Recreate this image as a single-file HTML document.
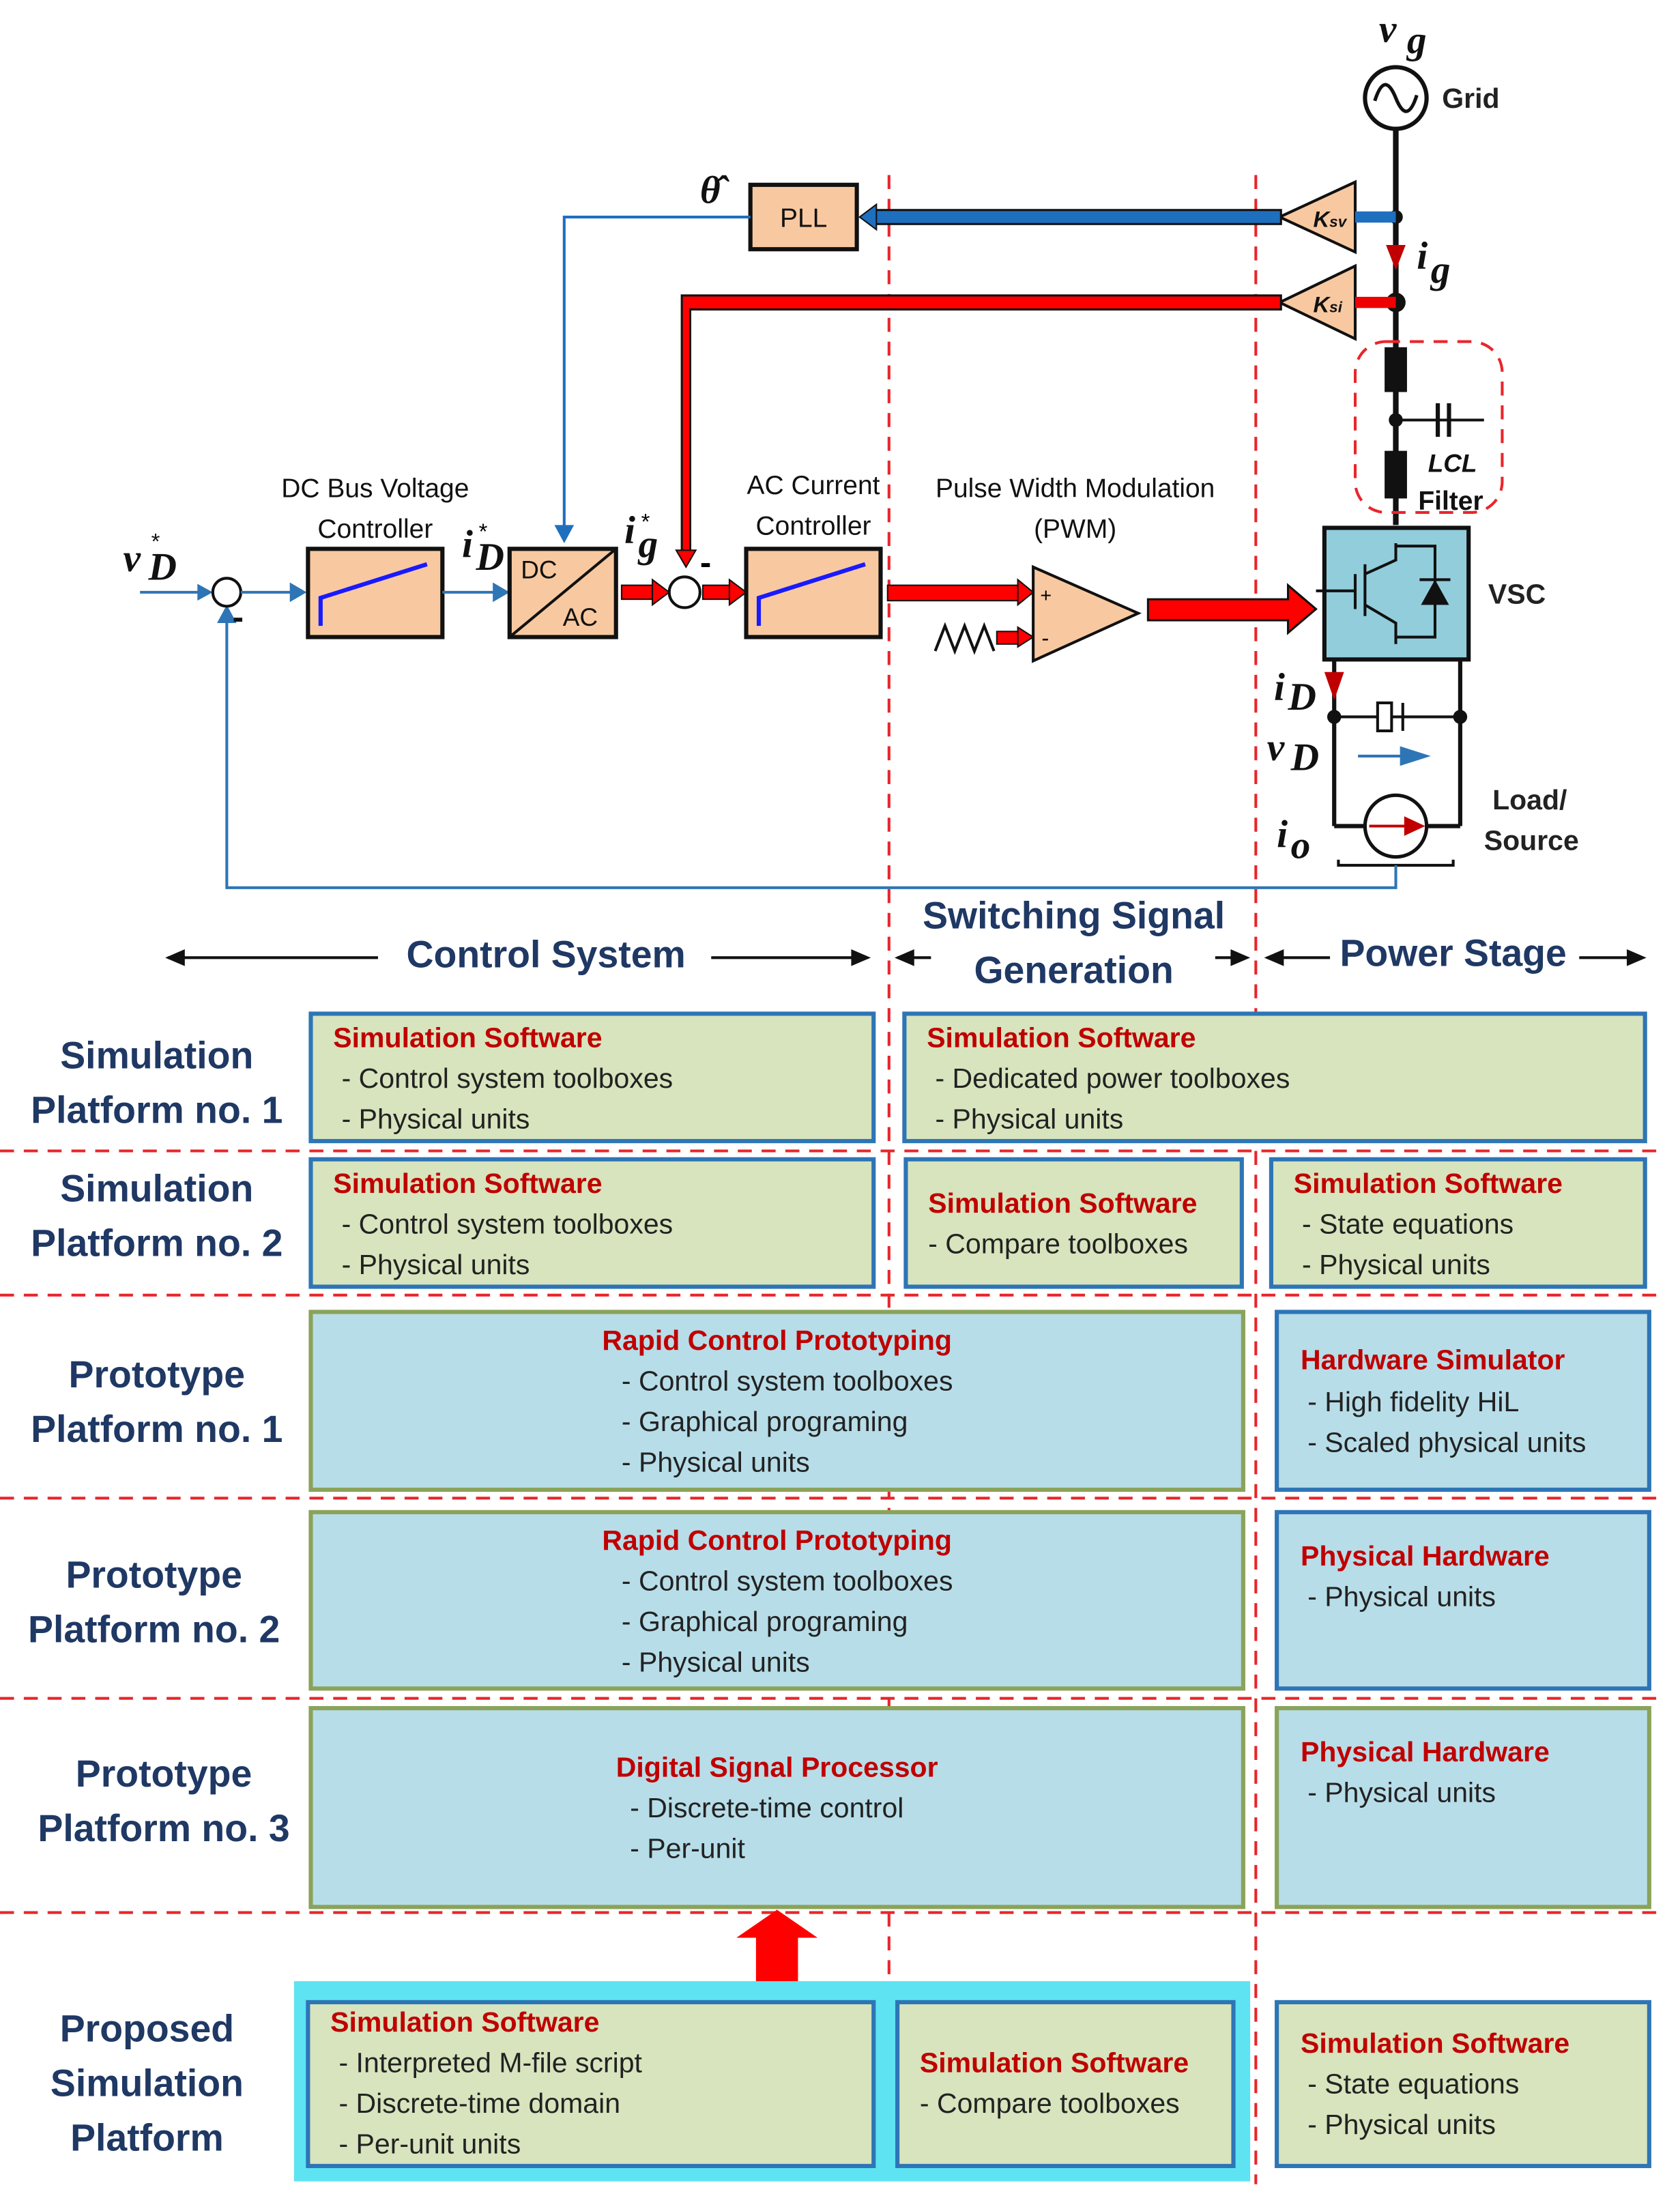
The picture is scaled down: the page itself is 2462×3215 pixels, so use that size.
<!DOCTYPE html>
<html><head><meta charset="utf-8"><style>
html,body{margin:0;padding:0;background:#fff}
svg{display:block}
text{font-family:"Liberation Sans","DejaVu Sans",sans-serif}
.h{fill:#1f3864;font-size:27px;font-weight:bold;text-anchor:middle}
.t{fill:#c00000;font-size:20px;font-weight:bold}
.b{fill:#222;font-size:20px}
.g{fill:#d7e4bd;stroke:#2e75b6;stroke-width:3}
.c{fill:#b7dde8;stroke:#8aa35a;stroke-width:3}
.cb{fill:#b7dde8;stroke:#2e75b6;stroke-width:3}
.rd{stroke:#e8262b;stroke-width:2;stroke-dasharray:10,7;fill:none}
.m{font-family:"Liberation Serif",serif;font-style:italic;font-weight:bold;font-size:28px;fill:#111}
.s{fill:#111;font-size:19px}
</style></head><body>
<svg width="2462" height="3215" viewBox="0 0 1200 1567" preserveAspectRatio="none" xmlns="http://www.w3.org/2000/svg">
<!-- dashed separators -->
<line class="rd" x1="635" y1="125" x2="635" y2="1415"/>
<line class="rd" x1="897" y1="125" x2="897" y2="1560"/>
<line class="rd" x1="0" y1="822" x2="1190" y2="822"/>
<line class="rd" x1="0" y1="925" x2="1190" y2="925"/>
<line class="rd" x1="0" y1="1070" x2="1190" y2="1070"/>
<line class="rd" x1="0" y1="1213" x2="1190" y2="1213"/>
<line class="rd" x1="0" y1="1366" x2="1190" y2="1366"/>

<!-- Grid -->
<text class="m" x="985" y="30">v</text><text class="m" x="1005" y="38" font-size="20">g</text>
<circle cx="997" cy="70" r="22" fill="#fff" stroke="#111" stroke-width="3"/>
<path d="M982 72 q7 -22 15 -2 q8 20 15 -2" fill="none" stroke="#111" stroke-width="2.5"/>
<text x="1030" y="77" font-size="20" font-weight="bold" fill="#222">Grid</text>
<line x1="997" y1="92" x2="997" y2="375" stroke="#111" stroke-width="4"/>
<!-- Ksv -->
<polygon points="968,130 968,180 914,155" fill="#f8c9a0" stroke="#111" stroke-width="2"/>
<text x="938" y="162" font-size="16" font-style="italic" font-weight="bold" fill="#111">K<tspan font-size="11">sv</tspan></text>
<circle cx="997" cy="155" r="5" fill="#111"/>
<rect x="968" y="151" width="29" height="8" fill="#1f6fbf"/>
<rect x="623" y="150" width="292" height="10" fill="#1f6fbf" stroke="#111" stroke-width="1.5"/>
<polygon points="614,155 626,146 626,164" fill="#1f6fbf" stroke="#111"/>
<rect x="536" y="132" width="76" height="46" fill="#f8c9a0" stroke="#111" stroke-width="3"/>
<text x="574" y="162" font-size="19" text-anchor="middle" fill="#111">PLL</text>
<text class="m" x="500" y="145">θ̂</text>
<polyline points="536,155 403,155 403,380" fill="none" stroke="#1f6fbf" stroke-width="2"/>
<polygon points="396,375 410,375 403,388" fill="#1f6fbf"/>
<!-- ig -->
<polygon points="990,175 1004,175 997,193" fill="#c00000"/>
<text class="m" x="1012" y="192">i</text><text class="m" x="1022" y="202" font-size="20">g</text>
<polygon points="968,190 968,242 914,216" fill="#f8c9a0" stroke="#111" stroke-width="2"/>
<text x="938" y="223" font-size="16" font-style="italic" font-weight="bold" fill="#111">K<tspan font-size="11">si</tspan></text>
<circle cx="997" cy="216" r="7" fill="#111"/>
<rect x="968" y="212" width="29" height="8" fill="#e00"/>
<path d="M915 211 L487 211 L487 395 L493 395 L493 221 L915 221 Z" fill="#ff0000" stroke="#111" stroke-width="1.5"/>
<polygon points="483,393 497,393 490,405" fill="#ff0000" stroke="#111"/>
<!-- LCL -->
<rect x="968" y="244" width="105" height="122" rx="22" class="rd"/>
<rect x="989" y="248" width="16" height="32" fill="#111"/>
<rect x="989" y="322" width="16" height="34" fill="#111"/>
<circle cx="997" cy="300" r="5" fill="#111"/>
<line x1="997" y1="300" x2="1060" y2="300" stroke="#111" stroke-width="2"/>
<line x1="1027" y1="288" x2="1027" y2="312" stroke="#111" stroke-width="3"/>
<line x1="1035" y1="288" x2="1035" y2="312" stroke="#111" stroke-width="3"/>
<line x1="1083" y1="300" x2="1083" y2="300" stroke="#111"/>
<text x="1020" y="337" font-size="18" font-style="italic" font-weight="bold" fill="#111">LCL</text>
<text x="1013" y="364" font-size="19" font-weight="bold" fill="#111">Filter</text>
<!-- VSC -->
<rect x="946" y="377" width="103" height="94" fill="#92cddc" stroke="#111" stroke-width="3"/>
<path d="M997 388 L997 400 L975 410 M975 403 L975 440 M968 410 L968 435 M940 422 L968 422 M975 432 L997 445 L997 460 M997 390 L1025 390 L1025 455 L997 455" fill="none" stroke="#111" stroke-width="2"/>
<polygon points="1015,432 1035,432 1025,414" fill="#111"/>
<line x1="1014" y1="414" x2="1036" y2="414" stroke="#111" stroke-width="2"/>
<text x="1063" y="431" font-size="20" font-weight="bold" fill="#222">VSC</text>
<!-- DC side -->
<line x1="953" y1="471" x2="953" y2="590" stroke="#111" stroke-width="3"/>
<line x1="1043" y1="471" x2="1043" y2="590" stroke="#111" stroke-width="3"/>
<line x1="953" y1="590" x2="975" y2="590" stroke="#111" stroke-width="3"/>
<line x1="1019" y1="590" x2="1043" y2="590" stroke="#111" stroke-width="3"/>
<line x1="953" y1="512" x2="1043" y2="512" stroke="#111" stroke-width="2"/>
<rect x="984" y="502" width="10" height="20" fill="#fff" stroke="#111" stroke-width="2"/>
<line x1="1002" y1="502" x2="1002" y2="522" stroke="#111" stroke-width="2"/>
<circle cx="953" cy="512" r="5" fill="#111"/><circle cx="1043" cy="512" r="5" fill="#111"/>
<polygon points="946,480 960,480 953,500" fill="#c00000"/>
<line x1="970" y1="540" x2="1005" y2="540" stroke="#2e75b6" stroke-width="2"/>
<polygon points="1000,533 1022,540 1000,547" fill="#2e75b6"/>
<circle cx="997" cy="590" r="22" fill="#fff" stroke="#111" stroke-width="2.5"/>
<line x1="978" y1="590" x2="1005" y2="590" stroke="#c00000" stroke-width="2"/>
<polygon points="1003,583 1018,590 1003,597" fill="#c00000"/>
<path d="M956 614 L956 618 L1038 618 L1038 614" fill="none" stroke="#111" stroke-width="2"/>
<text class="m" x="910" y="500">i</text><text class="m" x="920" y="507" font-size="20">D</text>
<text class="m" x="905" y="543">v</text><text class="m" x="922" y="550" font-size="20">D</text>
<text class="m" x="912" y="605">i</text><text class="m" x="922" y="613" font-size="20">o</text>
<text x="1066" y="578" font-size="20" font-weight="bold" fill="#222">Load/</text>
<text x="1060" y="607" font-size="20" font-weight="bold" fill="#222">Source</text>
<!-- feedback -->
<polyline points="997,618 997,634 162,634 162,440" fill="none" stroke="#2e75b6" stroke-width="2"/>
<polygon points="155,445 169,445 162,432" fill="#2e75b6"/>
<!-- control chain -->
<text class="m" x="88" y="408">v</text><text class="m" x="106" y="414" font-size="20">D</text><text x="108" y="392" font-size="16" fill="#111">*</text>
<line x1="100" y1="423" x2="145" y2="423" stroke="#2e75b6" stroke-width="2"/>
<polygon points="141,417 152,423 141,429" fill="#2e75b6"/>
<circle cx="162" cy="423" r="10" fill="#fff" stroke="#111" stroke-width="2"/>
<text x="166" y="449" font-size="24" font-weight="bold" fill="#111">-</text>
<line x1="172" y1="423" x2="210" y2="423" stroke="#2e75b6" stroke-width="2"/>
<polygon points="207,416 219,423 207,430" fill="#2e75b6"/>
<rect x="220" y="392" width="96" height="63" fill="#f8c9a0" stroke="#111" stroke-width="3"/>
<polyline points="229,447 229,427 305,403" fill="none" stroke="#1a1aff" stroke-width="3"/>
<text x="268" y="355" font-size="19" text-anchor="middle" fill="#111">DC Bus Voltage</text>
<text x="268" y="384" font-size="19" text-anchor="middle" fill="#111">Controller</text>
<line x1="316" y1="423" x2="355" y2="423" stroke="#2e75b6" stroke-width="2"/>
<polygon points="352,416 364,423 352,430" fill="#2e75b6"/>
<text class="m" x="330" y="398">i</text><text class="m" x="340" y="407" font-size="20">D</text><text x="342" y="385" font-size="16">*</text>
<rect x="364" y="392" width="76" height="63" fill="#f8c9a0" stroke="#111" stroke-width="3"/>
<line x1="364" y1="455" x2="440" y2="392" stroke="#111" stroke-width="2"/>
<text x="372" y="413" font-size="18" fill="#111">DC</text><text x="402" y="447" font-size="18" fill="#111">AC</text>
<text class="m" x="446" y="388">i</text><text class="m" x="456" y="398" font-size="20">g</text><text x="458" y="378" font-size="16">*</text>
<rect x="444" y="418" width="24" height="10" fill="#f00" stroke="#111"/>
<polygon points="466,414 478,423 466,432" fill="#f00" stroke="#111"/>
<circle cx="489" cy="423" r="11" fill="#fff" stroke="#111" stroke-width="2"/>
<text x="500" y="410" font-size="24" font-weight="bold">-</text>
<rect x="502" y="418" width="20" height="10" fill="#f00" stroke="#111"/>
<polygon points="521,414 533,423 521,432" fill="#f00" stroke="#111"/>
<rect x="533" y="392" width="96" height="63" fill="#f8c9a0" stroke="#111" stroke-width="3"/>
<polyline points="542,447 542,427 618,403" fill="none" stroke="#1a1aff" stroke-width="3"/>
<text x="581" y="353" font-size="19" text-anchor="middle" fill="#111">AC Current</text>
<text x="581" y="382" font-size="19" text-anchor="middle" fill="#111">Controller</text>
<rect x="634" y="418" width="95" height="11" fill="#f00" stroke="#111"/>
<polygon points="727,414 738,423 727,432" fill="#f00" stroke="#111"/>
<polyline points="668,465 675,447 682,465 689,447 696,465 703,447 710,465" fill="none" stroke="#111" stroke-width="2"/>
<rect x="712" y="451" width="16" height="9" fill="#f00" stroke="#111"/>
<polygon points="727,448 738,455 727,462" fill="#f00" stroke="#111"/>
<polygon points="738,405 738,472 813,438" fill="#f8c9a0" stroke="#111" stroke-width="2"/>
<text x="743" y="430" font-size="14">+</text><text x="744" y="461" font-size="16">-</text>
<text x="768" y="355" font-size="19" text-anchor="middle" fill="#111">Pulse Width Modulation</text>
<text x="768" y="384" font-size="19" text-anchor="middle" fill="#111">(PWM)</text>
<path d="M820 428 L920 428 L920 418 L940 435 L920 452 L920 443 L820 443 Z" fill="#f00" stroke="#111" stroke-width="1.5"/>
<!-- section headers -->
<line x1="120" y1="684" x2="270" y2="684" stroke="#111" stroke-width="2"/><polygon points="118,684 132,678 132,690" fill="#111"/>
<line x1="508" y1="684" x2="610" y2="684" stroke="#111" stroke-width="2"/><polygon points="622,684 608,678 608,690" fill="#111"/>
<text class="h" x="390" y="691">Control System</text>
<text class="h" x="767" y="663">Switching Signal</text>
<text class="h" x="767" y="702">Generation</text>
<line x1="641" y1="684" x2="665" y2="684" stroke="#111" stroke-width="2"/><polygon points="639,684 653,678 653,690" fill="#111"/>
<line x1="868" y1="684" x2="890" y2="684" stroke="#111" stroke-width="2"/><polygon points="893,684 879,678 879,690" fill="#111"/>
<line x1="905" y1="684" x2="950" y2="684" stroke="#111" stroke-width="2"/><polygon points="903,684 917,678 917,690" fill="#111"/>
<line x1="1128" y1="684" x2="1170" y2="684" stroke="#111" stroke-width="2"/><polygon points="1176,684 1162,678 1162,690" fill="#111"/>
<text class="h" x="1038" y="690">Power Stage</text>
<!-- left labels -->
<text class="h" x="112" y="763">Simulation</text><text class="h" x="112" y="802">Platform no. 1</text>
<text class="h" x="112" y="858">Simulation</text><text class="h" x="112" y="897">Platform no. 2</text>
<text class="h" x="112" y="991">Prototype</text><text class="h" x="112" y="1030">Platform no. 1</text>
<text class="h" x="110" y="1134">Prototype</text><text class="h" x="110" y="1173">Platform no. 2</text>
<text class="h" x="117" y="1276">Prototype</text><text class="h" x="117" y="1315">Platform no. 3</text>
<text class="h" x="105" y="1458">Proposed</text><text class="h" x="105" y="1497">Simulation</text><text class="h" x="105" y="1536">Platform</text>
<!-- Row 1 -->
<rect class="g" x="222" y="724" width="402" height="91"/>
<text class="t" x="238" y="748">Simulation Software</text>
<text class="b" x="244" y="777">- Control system toolboxes</text><text class="b" x="244" y="806">- Physical units</text>
<rect class="g" x="646" y="724" width="529" height="91"/>
<text class="t" x="662" y="748">Simulation Software</text>
<text class="b" x="668" y="777">- Dedicated power toolboxes</text><text class="b" x="668" y="806">- Physical units</text>
<!-- Row 2 -->
<rect class="g" x="222" y="828" width="402" height="91"/>
<text class="t" x="238" y="852">Simulation Software</text>
<text class="b" x="244" y="881">- Control system toolboxes</text><text class="b" x="244" y="910">- Physical units</text>
<rect class="g" x="647" y="828" width="240" height="91"/>
<text class="t" x="663" y="866">Simulation Software</text>
<text class="b" x="663" y="895">- Compare toolboxes</text>
<rect class="g" x="908" y="828" width="267" height="91"/>
<text class="t" x="924" y="852">Simulation Software</text>
<text class="b" x="930" y="881">- State equations</text><text class="b" x="930" y="910">- Physical units</text>
<!-- Row 3 -->
<rect class="c" x="222" y="937" width="666" height="127"/>
<text class="t" x="555" y="964" text-anchor="middle">Rapid Control Prototyping</text>
<text class="b" x="444" y="993">- Control system toolboxes</text><text class="b" x="444" y="1022">- Graphical programing</text><text class="b" x="444" y="1051">- Physical units</text>
<rect class="cb" x="912" y="937" width="266" height="127"/>
<text class="t" x="929" y="978">Hardware Simulator</text>
<text class="b" x="934" y="1008">- High fidelity HiL</text><text class="b" x="934" y="1037">- Scaled physical units</text>
<!-- Row 4 -->
<rect class="c" x="222" y="1080" width="666" height="126"/>
<text class="t" x="555" y="1107" text-anchor="middle">Rapid Control Prototyping</text>
<text class="b" x="444" y="1136">- Control system toolboxes</text><text class="b" x="444" y="1165">- Graphical programing</text><text class="b" x="444" y="1194">- Physical units</text>
<rect class="cb" x="912" y="1080" width="266" height="126"/>
<text class="t" x="929" y="1118">Physical  Hardware</text>
<text class="b" x="934" y="1147">- Physical units</text>
<!-- Row 5 -->
<rect class="c" x="222" y="1220" width="666" height="142"/>
<text class="t" x="555" y="1269" text-anchor="middle">Digital Signal Processor</text>
<text class="b" x="450" y="1298">- Discrete-time control</text><text class="b" x="450" y="1327">- Per-unit</text>
<rect class="c" x="912" y="1220" width="266" height="142"/>
<text class="t" x="929" y="1258">Physical Hardware</text>
<text class="b" x="934" y="1287">- Physical units</text>
<!-- up arrow -->
<polygon points="540,1420 570,1420 570,1384 584,1384 555,1364 526,1384 540,1384" fill="#f00"/>
<!-- Proposed -->
<rect x="210" y="1415" width="683" height="143" fill="#5ee3f2"/>
<rect class="g" x="220" y="1430" width="404" height="117"/>
<text class="t" x="236" y="1451">Simulation Software</text>
<text class="b" x="242" y="1480">- Interpreted M-file script</text><text class="b" x="242" y="1509">- Discrete-time domain</text><text class="b" x="242" y="1538">- Per-unit units</text>
<rect class="g" x="641" y="1430" width="240" height="117"/>
<text class="t" x="657" y="1480">Simulation Software</text>
<text class="b" x="657" y="1509">- Compare toolboxes</text>
<rect class="g" x="912" y="1430" width="266" height="117"/>
<text class="t" x="929" y="1466">Simulation Software</text>
<text class="b" x="934" y="1495">- State equations</text><text class="b" x="934" y="1524">- Physical units</text>
</svg>
</body></html>
